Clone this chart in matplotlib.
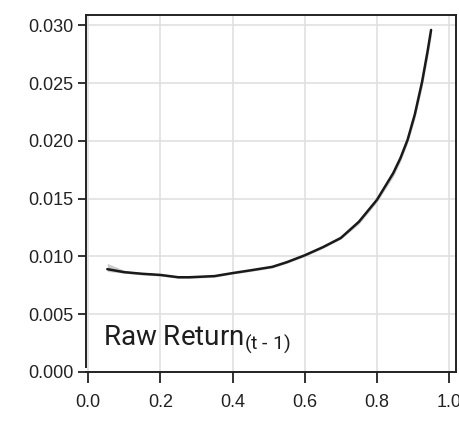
import matplotlib.pyplot as plt
from matplotlib import font_manager

# partial effect of the lagged raw return (smooth fit with band)
x_vals = [0.053, 0.10, 0.15, 0.20, 0.25, 0.28, 0.35, 0.40, 0.45, 0.51, 0.55,
          0.60, 0.65, 0.70, 0.75, 0.80, 0.845, 0.865, 0.885, 0.905, 0.925, 0.94, 0.95]
fit = [0.0089, 0.00864, 0.0085, 0.0084, 0.0082, 0.0082, 0.0083, 0.00856, 0.0088, 0.0091, 0.0095,
       0.0101, 0.0108, 0.0116, 0.0130, 0.0149, 0.0172, 0.0185, 0.0201, 0.0223, 0.0251, 0.0277, 0.0296]
band_lo = [0.0087, 0.00855, 0.0084, 0.0083, 0.0081, 0.0081, 0.0082, 0.00848, 0.0087, 0.0090, 0.0094,
           0.0100, 0.0107, 0.0115, 0.0128, 0.0147, 0.0169, 0.0182, 0.0198, 0.0219, 0.0246, 0.0271, 0.0290]
band_hi = [0.0094, 0.0088, 0.0086, 0.0085, 0.0083, 0.0083, 0.0084, 0.00864, 0.0089, 0.0092, 0.0096,
           0.0102, 0.0109, 0.0118, 0.0132, 0.0151, 0.0175, 0.0188, 0.0204, 0.0227, 0.0256, 0.0283, 0.0299]
x_ticks = [0.0, 0.2, 0.4, 0.6, 0.8, 1.0]
y_ticks = [0.000, 0.005, 0.010, 0.015, 0.020, 0.025, 0.030]

names = {f.name for f in font_manager.fontManager.ttflist}
tick_font = "Liberation Sans Narrow" if "Liberation Sans Narrow" in names else "Liberation Sans"

plt.rcParams["mathtext.fontset"] = "custom"
plt.rcParams["mathtext.rm"] = "Roboto"

fig = plt.figure(figsize=(4.59, 4.21), dpi=100)
ax = fig.add_axes([0.1874, 0.1164, 0.806, 0.848])

ax.fill_between(x_vals, band_lo, band_hi, color="#cccccc", lw=0, zorder=2)
ax.plot(x_vals, fit, color="#1a1a1a", lw=1.8, zorder=3, solid_capstyle="round",
        solid_joinstyle="round")

ax.set_xlim(-0.006, 1.019)
ax.set_ylim(0, 0.0309)
ax.set_xticks(x_ticks)
ax.set_yticks(y_ticks)
ax.set_xticklabels([f"{v:.1f}" for v in x_ticks], fontfamily=tick_font, fontsize=13, color="#222222")
ax.set_yticklabels([f"{v:.3f}" for v in y_ticks], fontfamily=tick_font, fontsize=13, color="#222222")
ax.tick_params(axis="y", length=6, width=1.3, pad=3, color="#222222")
ax.tick_params(axis="x", length=8, width=1.3, pad=8, color="#222222")

ax.grid(True, color="#e0e0e0", lw=1.2, zorder=0)
ax.set_axisbelow(True)
for s in ax.spines.values():
    s.set_linewidth(1.4)
    s.set_color("#222222")
ax.spines["left"].set_bounds(0.0004, 0.0309)

ax.text(0.045, 0.075, r"Raw Return$_{\text{(t - 1)}}$", transform=ax.transAxes,
        fontsize=20, fontfamily="Roboto", color="#1e1e1e")

fig.savefig("out.png", dpi=100)
